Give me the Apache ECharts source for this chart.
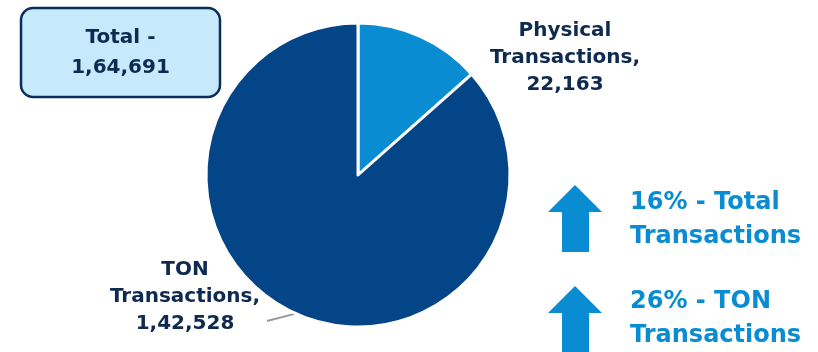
<!DOCTYPE html>
<html>
<head>
<meta charset="utf-8">
<script src="https://cdn.jsdelivr.net/npm/echarts@6/dist/echarts.min.js"></script>
<style>
  html, body { margin: 0; padding: 0; background: #ffffff; }
  #chart { width: 818px; height: 352px; }
</style>
</head>
<body>
<div id="chart"></div>
<script>
// Transaction mix
const categories = ['Physical Transactions', 'TON Transactions'];
const values = [22163, 142528];
// Year-on-year growth callouts
const growthPct = [16, 26];
const growthLabels = ['Total\nTransactions', 'TON\nTransactions'];

const NAVY = '#0E2A50';
const LIGHT = '#0A8CD2';
const DARK = '#044587';
const FONT = 'DejaVu Sans';

// Indian digit grouping: 1,64,691
function groupIN(n) {
  const s = String(n);
  if (s.length <= 3) return s;
  const last3 = s.slice(-3);
  const rest = s.slice(0, -3).replace(/\B(?=(\d{2})+(?!\d))/g, ',');
  return rest + ',' + last3;
}

const total = values.reduce((a, b) => a + b, 0);

// where each slice label sits, and where its leader line stops
const labelSpots = [
  { x: 565, y: 58 },
  { x: 185, y: 297, lineEnd: [267, 321] }
];

const chart = echarts.init(document.getElementById('chart'), null, { renderer: 'canvas' });

function arrow(top) {
  return {
    type: 'polygon',
    silent: true,
    shape: {
      points: [[575, top], [602, top + 27], [589, top + 27], [589, top + 67],
               [562, top + 67], [562, top + 27], [548, top + 27]]
    },
    style: { fill: LIGHT }
  };
}

chart.setOption({
  animation: false,
  backgroundColor: '#ffffff',
  graphic: [
    {
      type: 'rect',
      silent: true,
      shape: { x: 21, y: 8, width: 199, height: 89, r: 12 },
      style: { fill: '#C6E9FB', stroke: '#0B2D5A', lineWidth: 2.5 }
    },
    {
      type: 'text',
      silent: true,
      x: 120.5, y: 53,
      style: {
        text: 'Total -\n' + groupIN(total),
        fill: NAVY, font: 'bold 20px "' + FONT + '"',
        align: 'center', verticalAlign: 'middle', lineHeight: 30
      }
    },
    arrow(185),
    arrow(286),
    {
      type: 'text',
      silent: true,
      x: 630, y: 220,
      style: {
        text: growthPct[0] + '% - ' + growthLabels[0],
        fill: LIGHT, font: 'bold 24px "' + FONT + '"',
        align: 'left', verticalAlign: 'middle', lineHeight: 34
      }
    },
    {
      type: 'text',
      silent: true,
      x: 630, y: 319,
      style: {
        text: growthPct[1] + '% - ' + growthLabels[1],
        fill: LIGHT, font: 'bold 24px "' + FONT + '"',
        align: 'left', verticalAlign: 'middle', lineHeight: 34
      }
    }
  ],
  series: [{
    type: 'pie',
    center: [358, 175],
    radius: 152,
    startAngle: 90,
    clockwise: true,
    silent: true,
    itemStyle: { borderColor: '#ffffff', borderWidth: 3 },
    label: {
      show: true,
      position: 'outside',
      formatter: p => p.name.replace(' ', '\n') + ',\n' + groupIN(p.value),
      color: NAVY,
      fontFamily: FONT,
      fontWeight: 'bold',
      fontSize: 20,
      lineHeight: 27,
      align: 'center'
    },
    labelLine: {
      show: true,
      length: 2,
      length2: 26,
      lineStyle: { color: '#999999', width: 2 }
    },
    labelLayout: p => {
      const spot = labelSpots[p.dataIndex];
      const out = { x: spot.x, y: spot.y, align: 'center', verticalAlign: 'middle' };
      if (spot.lineEnd && p.labelLinePoints) {
        // straight leader from the slice edge to the label
        out.labelLinePoints = [p.labelLinePoints[0], spot.lineEnd, spot.lineEnd];
      }
      return out;
    },
    data: categories.map((name, i) => ({
      name,
      value: values[i],
      itemStyle: { color: i === 0 ? LIGHT : DARK },
      labelLine: { show: i !== 0 }
    }))
  }]
});
</script>
</body>
</html>
